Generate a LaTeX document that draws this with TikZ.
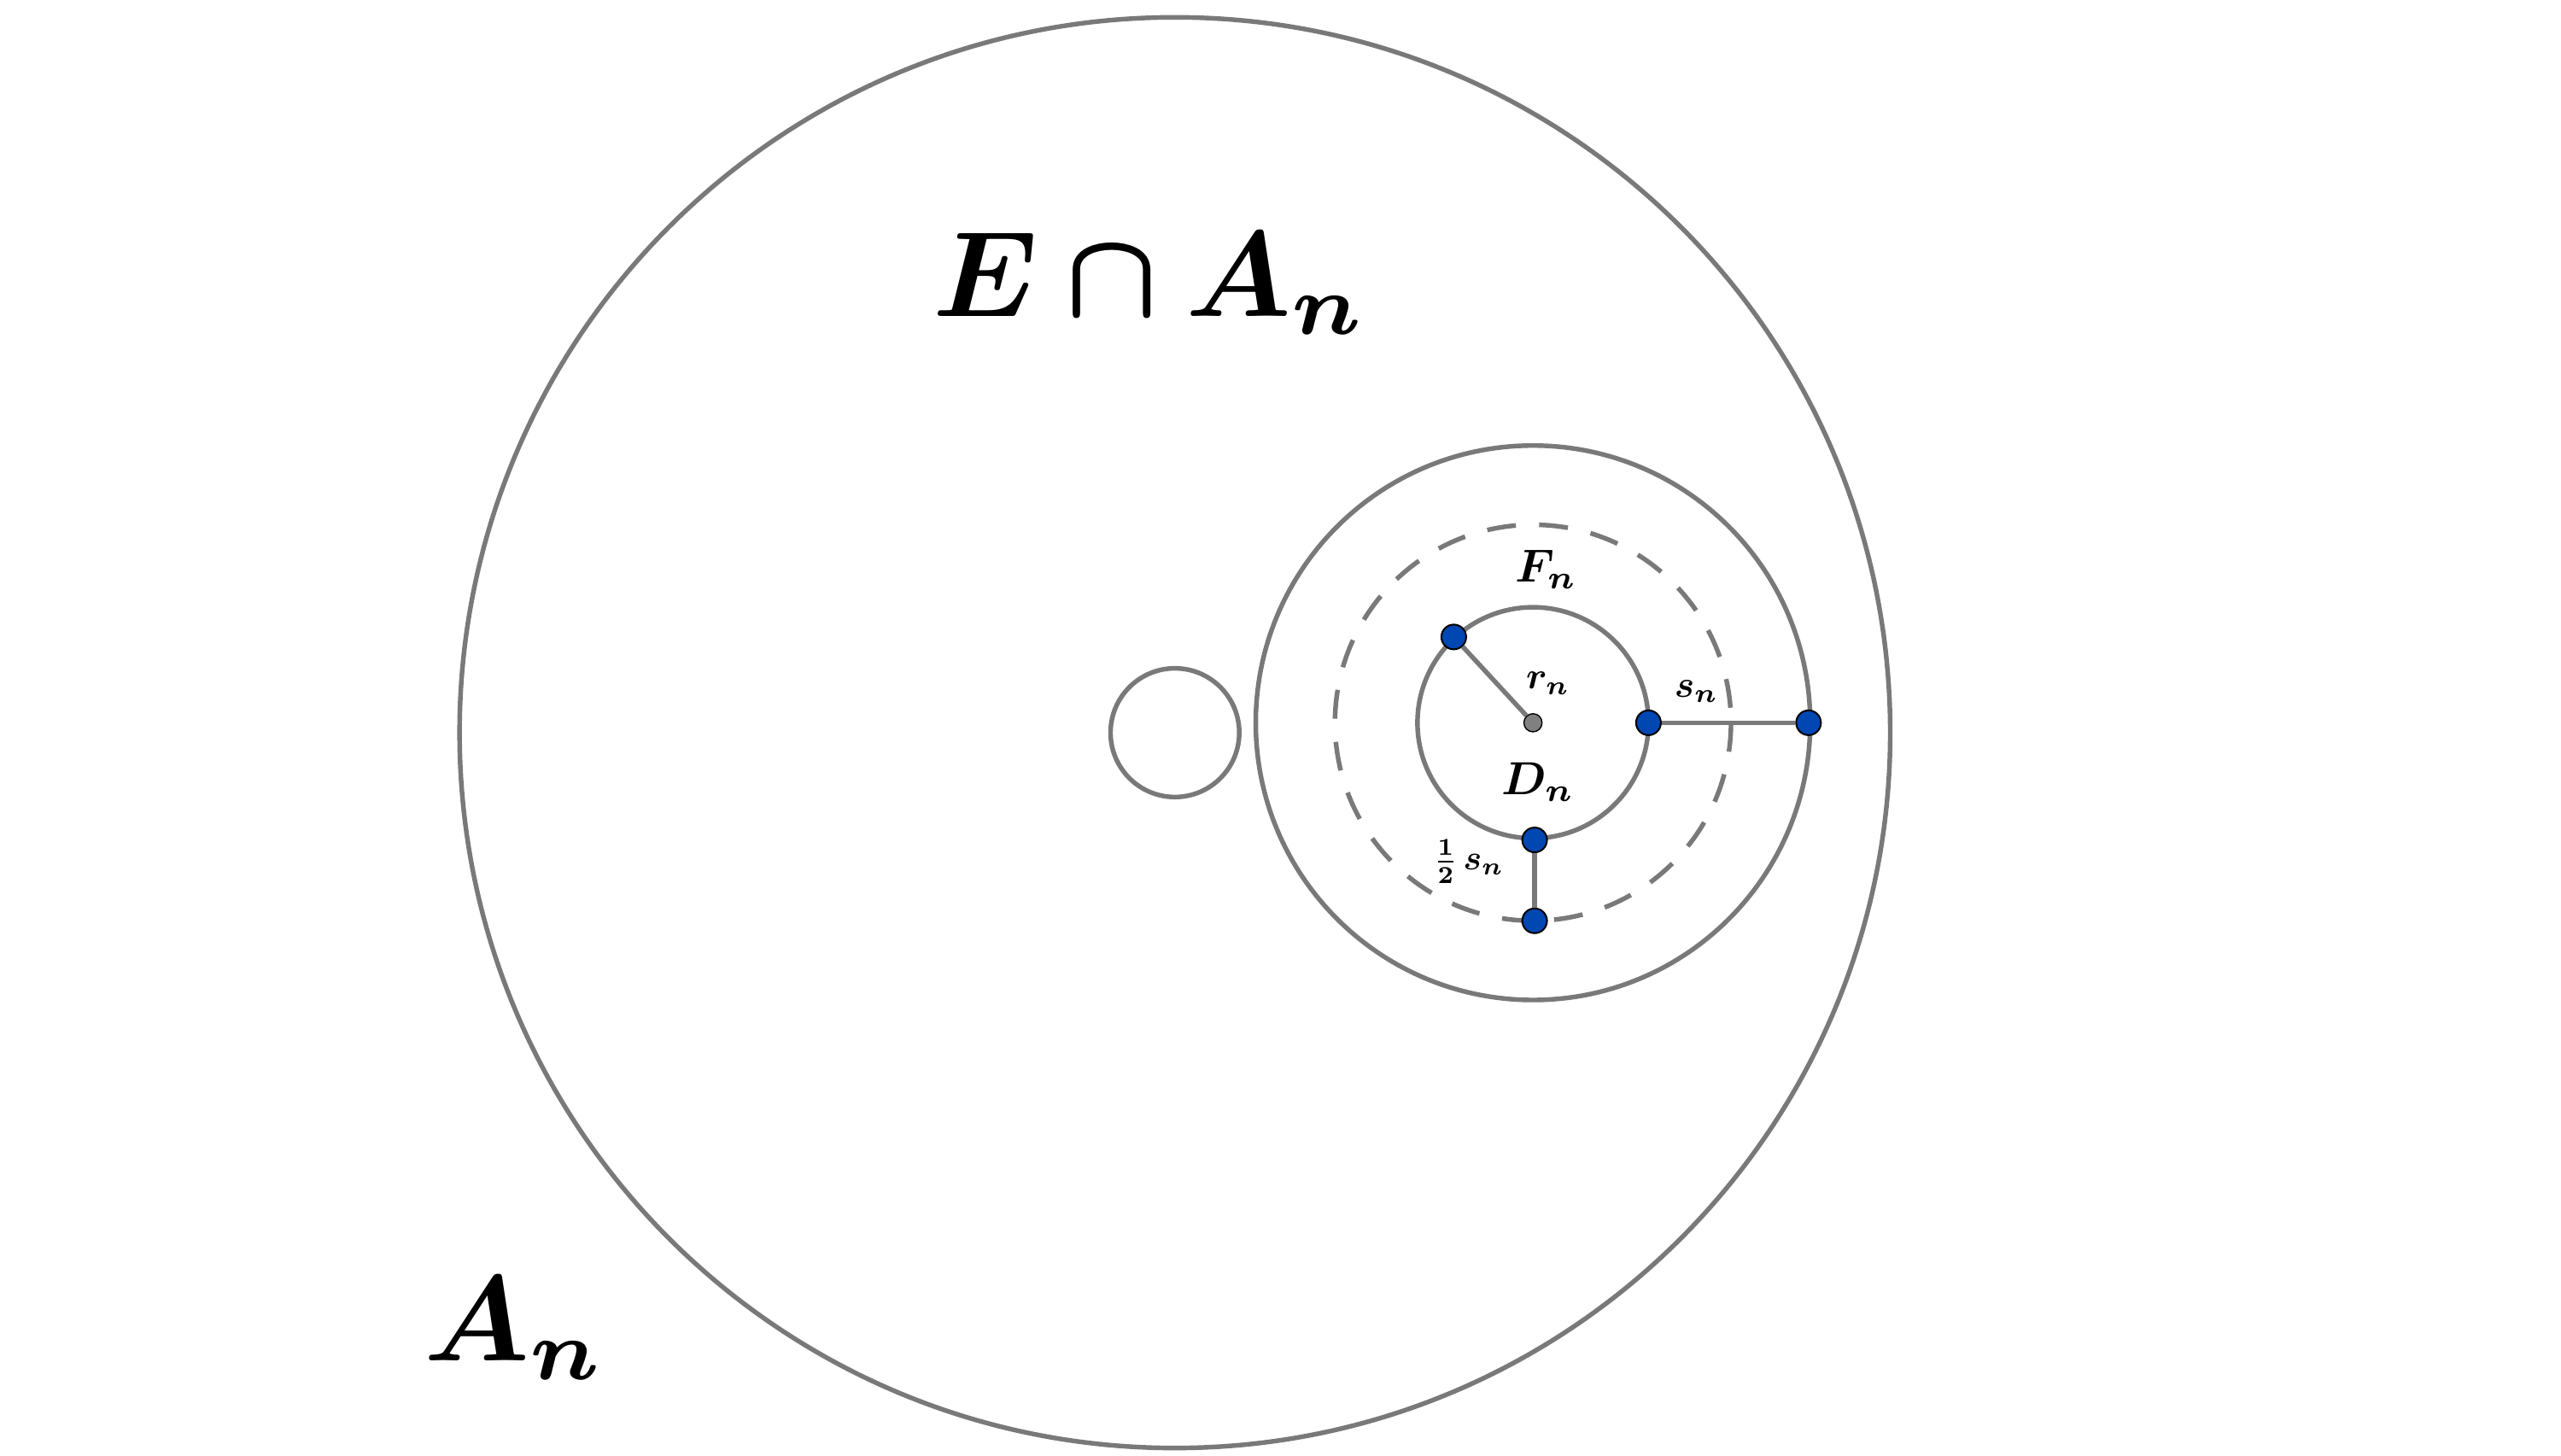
\documentclass[tikz,border=0pt]{standalone}
\usepackage{amsmath,bm,graphicx}
\begin{document}
\begin{tikzpicture}[x=0.02cm,y=-0.02cm,
  circ/.style={draw=gray!50!black!70,line width=1.6pt},
  pt/.style={circle,fill=blue!60!cyan!70!black,draw=black,inner sep=0pt,minimum size=0.3cm,line width=0.6pt},
  seg/.style={draw=gray!50!black!70,line width=1.6pt}]
\useasboundingbox (0,0) rectangle (1552,882);
\draw[circ] (712,444) circle[radius=433.5];
\draw[circ] (712,444) circle[radius=39];
\draw[circ] (929,438) circle[radius=168];
\draw[circ,dashed,dash pattern=on 10pt off 8pt] (929,438) circle[radius=120];
\draw[circ] (929,438) circle[radius=70];
\node[circle,fill=gray,draw=black,inner sep=0pt,minimum size=0.22cm] (c) at (929,438) {};
\node[pt] (p1) at (881,386) {};
\node[pt] (p2) at (999,438) {};
\node[pt] (p3) at (1096,438) {};
\node[pt] (p4) at (930,509) {};
\node[pt] (p5) at (930,558) {};
\draw[seg] (c) -- (p1);
\draw[seg] (p2) -- (p3);
\draw[seg] (p4) -- (p5);
\node (ea) at (697,172) {\scalebox{4.2}{$\bm{E\cap A_n}$}};
\node (an) at (312,805) {\scalebox{4.2}{$\bm{A_n}$}};
\node (fn) at (937,345) {\scalebox{1.6}{$\bm{F_n}$}};
\node (rn) at (938,414) {\scalebox{1.3}{$\bm{r_n}$}};
\node (sn) at (1028,419) {\scalebox{1.3}{$\bm{s_n}$}};
\node (dn) at (932,474) {\scalebox{1.6}{$\bm{D_n}$}};
\node (hs) at (890,522) {\scalebox{1.2}{$\bm{\tfrac{1}{2}\,s_n}$}};
\end{tikzpicture}
\end{document}
